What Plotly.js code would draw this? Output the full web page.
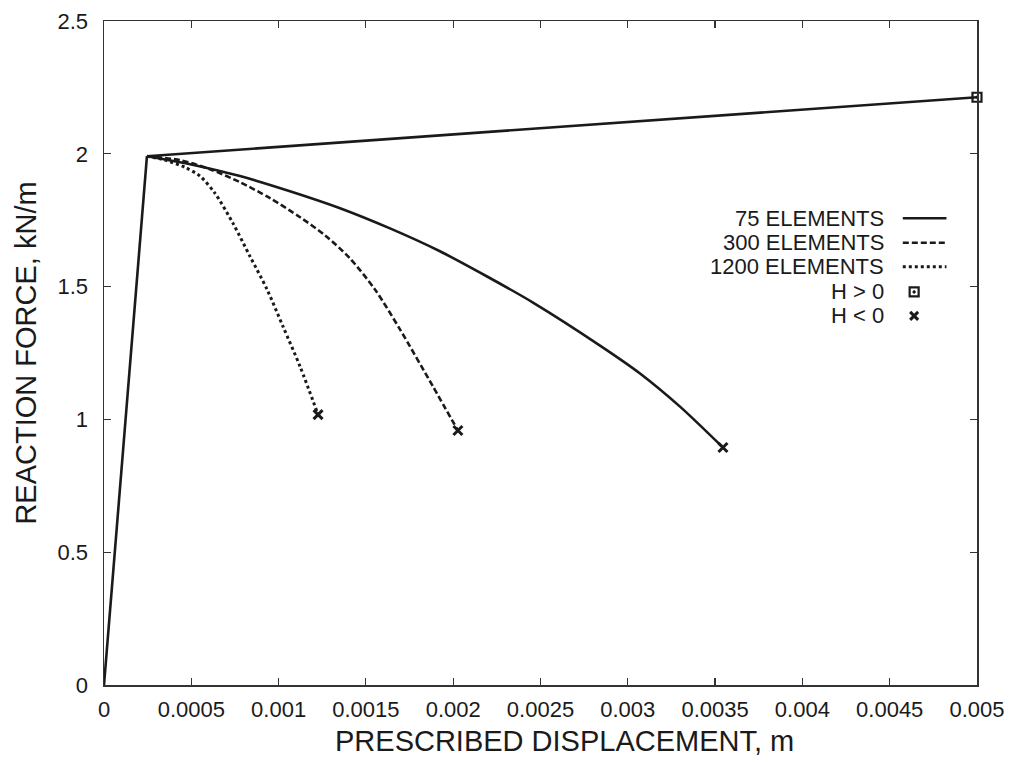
<!DOCTYPE html>
<html>
<head>
<meta charset="utf-8">
<script src="https://cdn.plot.ly/plotly-3.0.1.min.js"></script>
<style>html,body{margin:0;padding:0;background:#fff;}#chart{width:1010px;height:766px;}</style>
</head>
<body>
<div id="chart"></div>
<script>
// Elastic branch + 75-element (H > 0) hardening branch
const elasticX = [0, 0.000246];
const elasticY = [0, 1.991];
const hPosX = [0.000246, 0.005];
const hPosY = [1.991, 2.213];

// Softening branches (H < 0)
const e75X = [0.000246, 0.000493, 0.000779, 0.001065, 0.001352, 0.001638, 0.001924, 0.002194, 0.002457, 0.002841, 0.003070, 0.003299, 0.003545];
const e75Y = [1.991, 1.961, 1.916, 1.859, 1.795, 1.719, 1.633, 1.538, 1.440, 1.278, 1.173, 1.048, 0.894];

const e300X = [0.000246, 0.000435, 0.000607, 0.000779, 0.000951, 0.001123, 0.001266, 0.001409, 0.001552, 0.001695, 0.001884, 0.002027];
const e300Y = [1.991, 1.976, 1.942, 1.893, 1.833, 1.761, 1.693, 1.606, 1.489, 1.339, 1.124, 0.958];

const e1200X = [0.000246, 0.000349, 0.000464, 0.000550, 0.000636, 0.000739, 0.000836, 0.000934, 0.001025, 0.001123, 0.001226];
const e1200Y = [1.991, 1.976, 1.949, 1.916, 1.851, 1.738, 1.614, 1.489, 1.350, 1.199, 1.018];

const endPosX = [0.005], endPosY = [2.213];
const endNegX = [0.003545, 0.002027, 0.001226];
const endNegY = [0.894, 0.958, 1.018];

const legendLabels = ["75 ELEMENTS", "300 ELEMENTS", "1200 ELEMENTS", "H > 0", "H < 0"];
const xTitle = 'PRESCRIBED DISPLACEMENT, m';
const yTitle = 'REACTION FORCE, kN/m';

const xTicks = [0, 0.0005, 0.001, 0.0015, 0.002, 0.0025, 0.003, 0.0035, 0.004, 0.0045, 0.005];
const xTickText = ["0", "0.0005", "0.001", "0.0015", "0.002", "0.0025", "0.003", "0.0035", "0.004", "0.0045", "0.005"];
const yTicks = [0, 0.5, 1, 1.5, 2, 2.5];
const yTickText = ["0", "0.5", "1", "1.5", "2", "2.5"];

const ink = '#1a1a1a';
const lw = 2.6;
const fam = 'Liberation Sans, Arial, sans-serif';

const traces = [
  {x: elasticX, y: elasticY, mode: 'lines', line: {color: ink, width: lw}, showlegend: false},
  {x: hPosX, y: hPosY, mode: 'lines', line: {color: ink, width: lw}, showlegend: false},
  {x: e75X, y: e75Y, mode: 'lines', line: {color: ink, width: lw, shape: 'spline', smoothing: 0.8}, showlegend: false},
  {x: e300X, y: e300Y, mode: 'lines', line: {color: ink, width: lw, dash: '6px,3px', shape: 'spline', smoothing: 0.8}, showlegend: false},
  {x: e1200X, y: e1200Y, mode: 'lines', line: {color: ink, width: 3, dash: '3px,3px', shape: 'spline', smoothing: 0.8}, showlegend: false},
  {x: endPosX, y: endPosY, mode: 'markers', marker: {symbol: 'square-open-dot', size: 9, color: ink, line: {width: 2.2, color: ink}}, showlegend: false, cliponaxis: false},
  {x: endNegX, y: endNegY, mode: 'markers', marker: {symbol: 'x-thin-open', size: 9, color: ink, line: {width: 3, color: ink}}, showlegend: false, cliponaxis: false}
];

// Legend samples drawn on an overlay axis in plot-fraction units
const legRowsY = [0.703, 0.666, 0.630, 0.592, 0.556];
const legLineX = [0.915, 0.965];
const legMarkX = [0.928];
traces.push(
  {x: legLineX, y: [legRowsY[0], legRowsY[0]], xaxis: 'x2', yaxis: 'y2', mode: 'lines', line: {color: ink, width: lw}, showlegend: false},
  {x: legLineX, y: [legRowsY[1], legRowsY[1]], xaxis: 'x2', yaxis: 'y2', mode: 'lines', line: {color: ink, width: lw, dash: '6px,3px'}, showlegend: false},
  {x: legLineX, y: [legRowsY[2], legRowsY[2]], xaxis: 'x2', yaxis: 'y2', mode: 'lines', line: {color: ink, width: 3, dash: '3px,3px'}, showlegend: false},
  {x: legMarkX, y: [legRowsY[3]], xaxis: 'x2', yaxis: 'y2', mode: 'markers', marker: {symbol: 'square-open-dot', size: 9, color: ink, line: {width: 2.2, color: ink}}, showlegend: false},
  {x: legMarkX, y: [legRowsY[4]], xaxis: 'x2', yaxis: 'y2', mode: 'markers', marker: {symbol: 'x-thin-open', size: 8, color: ink, line: {width: 3, color: ink}}, showlegend: false}
);

const annotations = legendLabels.map((t, i) => ({
  xref: 'x2', yref: 'y2', x: 0.896, y: legRowsY[i], text: t, showarrow: false,
  xanchor: 'right', yanchor: 'middle', font: {family: fam, size: 22, color: ink}
}));
annotations.push({
  xref: 'paper', yref: 'paper', x: 0.528, y: -0.084, text: xTitle, showarrow: false,
  xanchor: 'center', yanchor: 'middle', font: {family: fam, size: 29, color: ink}
});

const layout = {
  width: 1010, height: 766,
  paper_bgcolor: '#fff', plot_bgcolor: '#fff',
  margin: {l: 104, r: 33, t: 21, b: 81},
  showlegend: false,
  font: {family: fam, color: ink},
  xaxis: {
    range: [0, 0.005], tickvals: xTicks, ticktext: xTickText,
    ticks: 'inside', ticklen: 7, tickwidth: 1.2, tickcolor: '#333',
    showline: true, linecolor: '#333', linewidth: 1.5, mirror: 'ticks',
    showgrid: false, zeroline: false,
    tickfont: {size: 22, color: ink}, ticklabelstandoff: 4
  },
  yaxis: {
    range: [0, 2.5], tickvals: yTicks, ticktext: yTickText,
    ticks: 'inside', ticklen: 7, tickwidth: 1.2, tickcolor: '#333',
    showline: true, linecolor: '#333', linewidth: 1.5, mirror: 'ticks',
    showgrid: false, zeroline: false,
    tickfont: {size: 22, color: ink}, ticklabelstandoff: 10,
    title: {text: yTitle, font: {size: 29, color: ink}, standoff: 12}
  },
  xaxis2: {overlaying: 'x', range: [0, 1], visible: false, fixedrange: true},
  yaxis2: {overlaying: 'y', range: [0, 1], visible: false, fixedrange: true},
  annotations: annotations
};

Plotly.newPlot('chart', traces, layout, {displayModeBar: false, staticPlot: true});
</script>
</body>
</html>
